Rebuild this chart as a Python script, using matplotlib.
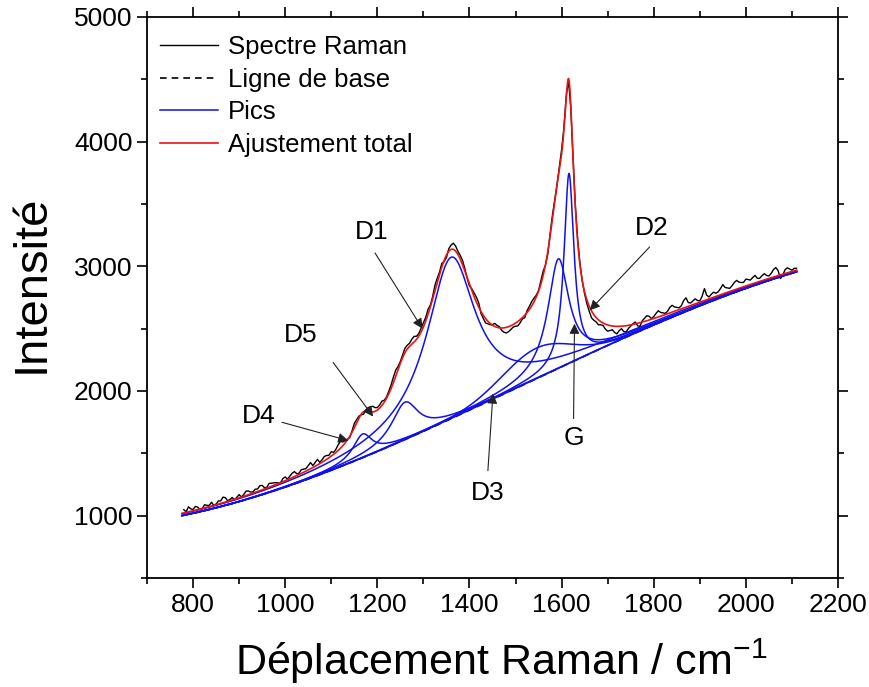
import numpy as np
import matplotlib
matplotlib.use("Agg")
import matplotlib.pyplot as plt

plt.rcParams['font.family'] = ['Liberation Sans', 'DejaVu Sans']
plt.rcParams['mathtext.fontset'] = 'custom'
plt.rcParams['mathtext.rm'] = 'Liberation Sans'
plt.rcParams['mathtext.default'] = 'regular'

# baseline: polynomial in u = (x - 776) / 1000
base_coef = [1000, 750, 1352, -611]
x_start, x_end = 776, 2110

# fitted peaks (height above baseline, centre, FWHM)
peak_names = ["D4", "D5", "D1", "D3", "G", "D2"]
peak_centre = [1168, 1260, 1360, 1545, 1593, 1616]
peak_height = [190, 300, 1295, 245, 878, 1523]
peak_fwhm = [50, 70, 128, 175, 55, 26]
peak_shape = ["L", "L", "L", "G", "L", "L"]

# measured spectrum: residual to the total fit, every 5 cm-1 from 780 to 2110
spec_resid = [
    # 780 - 1100
    25, 5, 40, 20, 10, 30, 20, -5, 0, 25, 15, 10, 30, 0, 5, 25, 20, 45, 35, 5,
    10, 20, -5, 10, 25, 0, 15, 35, 30, 15, 10, 25, 20, 40, 35, 10, 5, 30, 25, 20,
    15, 5, 0, 25, 30, 5, 20, 35, 40, 15, 10, 30, 25, 20, 35, 50, 15, 30, 45, 10,
    20, 35, 30, 20, 35,
    # 1105 - 1300
    15, 25, 45, 55, 30, 20, 5, -10, 10, 35, 25, 15, -5, -20, 10, 30, 40, 45, 30, 20,
    25, 35, 15, 10, 20, 30, 45, 50, 25, 15, 20, 35, 30, 25, 40, 45, 25, 20, 30, 35,
    # 1305 - 1500
    30, 40, 15, 20, 45, 35, 20, 30, -10, -20, 20, 35, 50, 40, 25, 30, 35, 20, -5, -15,
    15, 30, 40, 35, -15, -25, -35, -20, -10, 5, 25, 15, 10, -20, -35, -45, -40, -30, -20, -25,
    # 1505 - 1700
    -35, -25, -10, -20, 15, 25, 35, 30, 15, 5, 25, 35, -5, -20, 20, 30, 10, 5, 25, 35,
    20, 10, -15, -25, 5, 15, 20, 10, -5, -15, -30, -40, -55, -45, -35, -40, -25, -20, -40, -50,
    # 1705 - 1900
    -40, -30, -50, -60, -35, -20, -45, -50, -25, -10, 5, 15, -20, -30, 10, 25, 40, 30, 5, 15,
    35, 50, 30, 20, 10, 20, 45, 55, 35, 25, 15, 25, 60, 75, 30, 20, 30, 40, 20, 10,
    # 1905 - 2110
    40, 95, 35, 15, 30, 40, 25, 30, 50, 75, 45, 35, 25, 40, 60, 70, 50, 40, 35, 55,
    45, 35, 50, 60, 30, 25, 40, 50, 30, 20, 35, 60, 70, 40, -30, -10, 30, 40, 25, 10,
    20, 15]
spec_x = np.arange(780, 2111, 5)


def baseline(x):
    u = (x - 776) / 1000.0
    return sum(c * u**i for i, c in enumerate(base_coef))


def peak(x, i):
    c, h, w = peak_centre[i], peak_height[i], peak_fwhm[i]
    if peak_shape[i] == "G":
        return h * np.exp(-4 * np.log(2) * ((x - c) / w)**2)
    return h / (1 + ((x - c) / (w / 2))**2)


def total(x):
    return baseline(x) + sum(peak(x, i) for i in range(len(peak_names)))


xf = np.linspace(x_start, x_end, 1335)
spec_y = total(spec_x) + np.array(spec_resid)

fig = plt.figure(figsize=(8.69, 6.87), dpi=100)
ax = fig.add_axes([147/869, 109/687, 691/869, 561/687])

ax.plot(spec_x, spec_y, color='black', lw=1.0, label='Spectre Raman')
ax.plot(xf, baseline(xf), color='black', lw=1.2, ls=(0, (4, 3)), label='Ligne de base')
for i in range(len(peak_names)):
    ax.plot(xf, baseline(xf) + peak(xf, i), color='#1010ee', lw=1.1,
            label='Pics' if i == 0 else None)
ax.plot(xf, total(xf), color='#ee1111', lw=1.2, label='Ajustement total')

# annotations: label, text position, arrow start, arrow tip
notes = [("D4", (942, 1803), (993, 1749), (1137, 1602)),
         ("D5", (1033, 2446), (1104, 2229), (1191, 1795)),
         ("D1", (1188, 3276), (1195, 3107), (1298, 2500)),
         ("D3", (1440, 1185), (1440, 1361), (1451, 1980)),
         ("G", (1626, 1627), (1626, 1779), (1628, 2540)),
         ("D2", (1795, 3305), (1791, 3155), (1661, 2647))]
for lab, tpos, a0, a1 in notes:
    ax.text(tpos[0], tpos[1], lab, fontsize=19, ha='center', va='center')
    ax.annotate('', xy=a1, xytext=a0,
                arrowprops=dict(arrowstyle='-|>', color='#222222', lw=0.8,
                                mutation_scale=15, shrinkA=0, shrinkB=0))

ax.set_xlim(700, 2200)
ax.set_ylim(500, 5000)
ax.set_xticks(np.arange(800, 2201, 200))
ax.set_xticks(np.arange(700, 2201, 100), minor=True)
ax.set_yticks(np.arange(1000, 5001, 1000))
ax.set_yticks(np.arange(500, 5001, 500), minor=True)
ax.tick_params(which='both', direction='out', top=True, right=True, width=1.2,
               labelsize=19)
ax.tick_params(which='major', length=7)
ax.tick_params(which='minor', length=4)
for s in ax.spines.values():
    s.set_linewidth(1.3)

ax.set_xlabel('Déplacement Raman / cm$^{-1}$', fontsize=31, labelpad=15)
ax.xaxis.set_label_coords(0.512, -0.105)
ax.set_ylabel('Intensité', fontsize=34)
ax.yaxis.set_label_coords(-0.135, 0.525)

ax.legend(loc='upper left', bbox_to_anchor=(0.0, 0.99), frameon=False, fontsize=18.5,
          handlelength=2.25, handletextpad=0.4, labelspacing=0.33, borderaxespad=0.1)

fig.savefig('out.png', dpi=100)
